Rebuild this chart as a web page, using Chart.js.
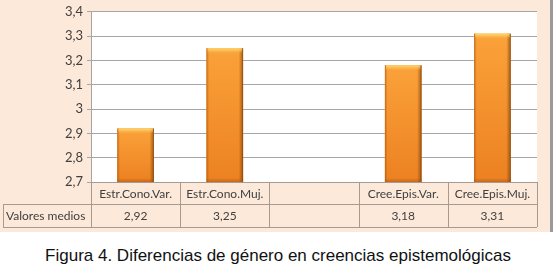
<!DOCTYPE html>
<html>
<head>
<meta charset="utf-8">
<script src="https://cdn.jsdelivr.net/npm/chart.js@4.4.0/dist/chart.umd.min.js"></script>
<style>
  html, body { margin: 0; padding: 0; background: #ffffff; width: 556px; height: 270px; overflow: hidden; }
  #wrap { position: absolute; left: 0; top: 0; width: 550px; height: 232px; background: #fde9d9; }
  #edge { position: absolute; left: 550px; top: 0; width: 3px; height: 232px; background: #9a9a9a; }
  #caption { position: absolute; left: 0; top: 246px; width: 556px; text-align: center;
             font-family: "Liberation Sans", Arial, sans-serif; font-size: 17px; color: #111; }
</style>
</head>
<body>
<div id="wrap"><canvas id="c" width="550" height="232"></canvas></div>
<div id="edge"></div>
<div id="caption">Figura 4. Diferencias de género en creencias epistemológicas</div>
<script>
const categories = ["Estr.Cono.Var.", "Estr.Cono.Muj.", "", "Cree.Epis.Var.", "Cree.Epis.Muj."];
const seriesName = "Valores medios";
const values = [2.92, 3.25, null, 3.18, 3.31];
const yTicks = [2.7, 2.8, 2.9, 3.0, 3.1, 3.2, 3.3, 3.4];

const fmt = v => (v === null ? "" : String(v).replace(".", ","));

const bgPlugin = {
  id: "plotBg",
  beforeDraw(chart) {
    const { ctx, chartArea: a } = chart;
    ctx.save();
    ctx.fillStyle = "#ffffff";
    ctx.fillRect(a.left, a.top, a.right - a.left, a.bottom - a.top);
    ctx.restore();
  }
};

const barShade = {
  id: "barShade",
  afterDatasetsDraw(chart) {
    const ctx = chart.ctx;
    const a = chart.chartArea;
    const meta = chart.getDatasetMeta(0);
    meta.data.forEach((bar, i) => {
      if (values[i] === null) return;
      const w = bar.width, l = bar.x - w / 2, r = bar.x + w / 2;
      const t = Math.max(bar.y, a.top), b = Math.min(bar.base, a.bottom);
      ctx.save();
      ctx.beginPath();
      ctx.rect(a.left, a.top, a.right - a.left, a.bottom - a.top);
      ctx.clip();
      let g = ctx.createLinearGradient(0, t, 0, b);
      g.addColorStop(0, "#fba23a");
      g.addColorStop(1, "#ec8121");
      ctx.fillStyle = g;
      ctx.fillRect(l, t, w, b - t);
      let h = ctx.createLinearGradient(l, 0, r, 0);
      h.addColorStop(0, "rgba(150,70,10,0.55)");
      h.addColorStop(0.07, "rgba(150,70,10,0.0)");
      h.addColorStop(0.88, "rgba(120,60,10,0.0)");
      h.addColorStop(0.96, "rgba(120,60,10,0.45)");
      h.addColorStop(1, "rgba(100,50,10,0.8)");
      ctx.fillStyle = h;
      ctx.fillRect(l, t, w, b - t);
      let tg = ctx.createLinearGradient(0, t, 0, t + 5);
      tg.addColorStop(0, "rgba(255,220,120,0.95)");
      tg.addColorStop(1, "rgba(255,200,90,0)");
      ctx.fillStyle = tg;
      ctx.fillRect(l + 1, t, w - 2, 5);
      let bg = ctx.createLinearGradient(0, b - 4, 0, b);
      bg.addColorStop(0, "rgba(160,80,20,0)");
      bg.addColorStop(1, "rgba(160,80,20,0.5)");
      ctx.fillStyle = bg;
      ctx.fillRect(l, b - 4, w, 4);
      ctx.restore();
    });
  }
};

const tablePlugin = {
  id: "dataTable",
  afterDraw(chart) {
    const { ctx, chartArea: a } = chart;
    const xs = chart.scales.x;
    const n = categories.length;
    const cw = (a.right - a.left) / n;
    const y0 = a.bottom, y1 = a.bottom + 22, y2 = a.bottom + 45;
    const firstLeft = 3;
    ctx.save();
    ctx.strokeStyle = "#a79a90";
    ctx.lineWidth = 1;
    ctx.beginPath();
    ctx.moveTo(a.left, y0 + 0.5); ctx.lineTo(a.right, y0 + 0.5);
    ctx.moveTo(firstLeft, y1 + 0.5); ctx.lineTo(a.right, y1 + 0.5);
    ctx.moveTo(firstLeft, y2 + 0.5); ctx.lineTo(a.right, y2 + 0.5);
    ctx.moveTo(firstLeft + 0.5, y1); ctx.lineTo(firstLeft + 0.5, y2);
    for (let i = 0; i <= n; i++) {
      const x = Math.round(a.left + i * cw) + 0.5;
      ctx.moveTo(x, y0); ctx.lineTo(x, y2);
    }
    ctx.stroke();
    ctx.fillStyle = "#404040";
    ctx.font = "12px Lato, 'Open Sans', sans-serif";
    ctx.textAlign = "center";
    ctx.textBaseline = "middle";
    categories.forEach((c, i) => {
      const x = xs.getPixelForValue(i);
      ctx.fillText(c, x, (y0 + y1) / 2 + 1);
      ctx.fillText(fmt(values[i]), x, (y1 + y2) / 2 + 1);
    });
    ctx.textAlign = "left";
    ctx.fillText(seriesName, firstLeft + 3, (y1 + y2) / 2 + 1);
    ctx.restore();
  }
};

new Chart(document.getElementById("c"), {
  type: "bar",
  data: {
    labels: categories,
    datasets: [{
      label: seriesName,
      data: values,
      backgroundColor: "#f7941d",
      borderWidth: 0,
      categoryPercentage: 1.0,
      barPercentage: 0.41
    }]
  },
  options: {
    responsive: false,
    animation: false,
    events: [],
    layout: { padding: { left: 0, right: 13, top: 10, bottom: 50 } },
    plugins: { legend: { display: false }, tooltip: { enabled: false } },
    scales: {
      x: { display: false },
      y: {
        min: 2.7, max: 3.4,
        afterFit(scale) { scale.width = 91; },
        afterBuildTicks(scale) { scale.ticks = yTicks.map(v => ({ value: v })); },
        ticks: {
          color: "#404040",
          font: { family: "Lato, 'Open Sans', sans-serif", size: 13 },
          padding: 4,
          callback: v => fmt(Math.round(v * 10) / 10)
        },
        grid: { color: "#a6a6a6", lineWidth: 1, tickLength: 4 },
        border: { color: "#a6a6a6" }
      }
    }
  },
  plugins: [bgPlugin, barShade, tablePlugin]
});
</script>
</body>
</html>
